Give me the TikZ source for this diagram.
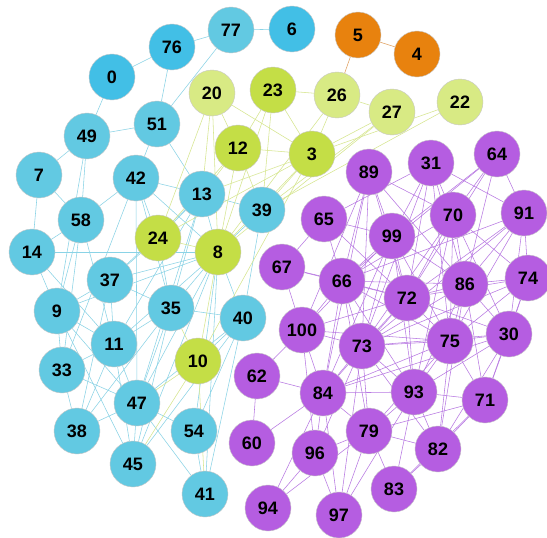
\documentclass[tikz,border=0pt]{standalone}
\usepackage{fontspec}
\setmainfont{Liberation Sans}
\usetikzlibrary{backgrounds}
\definecolor{cyn}{HTML}{62C9E2}
\definecolor{cyd}{HTML}{42BFE6}
\definecolor{lim}{HTML}{C4DE46}
\definecolor{liml}{HTML}{D8EA84}
\definecolor{org}{HTML}{E8820E}
\definecolor{pur}{HTML}{B55DE1}
\definecolor{ecy}{HTML}{8AD3E6}
\definecolor{egr}{HTML}{D6E68E}
\definecolor{eor}{HTML}{E0A060}
\definecolor{epu}{HTML}{B878E2}
\begin{document}
\begin{tikzpicture}[x=1pt,y=-1pt,
  vtx/.style={circle, minimum size=46pt, inner sep=0pt, draw=black!22, line width=0.4pt,
    font=\bfseries\fontsize{18}{18}\selectfont, text=black},
  bedge/.style={draw=ecy, line width=0.55pt},
  gedge/.style={draw=egr, line width=0.55pt},
  oedge/.style={draw=eor, line width=0.55pt},
  pedge/.style={draw=epu, line width=0.55pt}]
\useasboundingbox (0,0) rectangle (547,538);
% blue nodes
\foreach \n/\x/\y in {77/231/30, 49/87/136, 51/157/124, 7/39/175, 42/136/178, 58/81/220,
  13/202/194, 39/262/210, 14/32/252, 37/110/280, 35/171/308, 40/243/318, 9/57/311,
  11/114/344, 33/62/370, 47/137/403, 54/194/431, 38/77/431, 45/133/464, 41/205/494}
  \node[vtx, fill=cyn] (n\n) at (\x,\y) {\n};
\foreach \n/\x/\y in {0/112/77, 76/172/47, 6/292/29}
  \node[vtx, fill=cyd] (n\n) at (\x,\y) {\n};
% green nodes
\foreach \n/\x/\y in {23/273/90, 12/238/148, 3/312/154, 24/158/238, 8/218/252, 10/198/361}
  \node[vtx, fill=lim] (n\n) at (\x,\y) {\n};
\foreach \n/\x/\y in {20/212/93, 26/337/95, 27/392/112, 22/460/102}
  \node[vtx, fill=liml] (n\n) at (\x,\y) {\n};
% orange nodes
\foreach \n/\x/\y in {5/358/35, 4/417/54}
  \node[vtx, fill=org] (n\n) at (\x,\y) {\n};
% purple nodes
\foreach \n/\x/\y in {89/369/172, 31/431/163, 64/497/154, 65/324/219, 99/392/236, 70/453/215,
  91/524/213, 67/282/267, 66/342/281, 72/407/298, 86/465/284, 74/528/278, 100/302/330,
  73/362/346, 75/450/341, 30/509/334, 62/257/376, 84/323/393, 93/414/392, 71/485/400,
  60/252/443, 96/315/453, 79/369/431, 82/438/449, 83/394/489, 94/268/508, 97/339/515}
  \node[vtx, fill=pur] (n\n) at (\x,\y) {\n};
\begin{pgfonlayer}{background}
\fill[white] (0,0) rectangle (547,538);
\foreach \a/\b in {0/76, 0/49, 76/77, 77/6, 51/77, 51/76, 49/51, 49/7, 49/58, 49/9, 7/58, 7/14,
  58/14, 58/42, 58/9, 58/33, 58/11, 42/51, 42/13, 42/8, 42/47, 42/33, 42/35, 51/13, 14/8,
  14/9, 14/11, 13/39, 13/8, 13/35, 13/11, 13/47, 39/8, 39/40, 37/9, 37/11, 37/35, 37/8,
  37/38, 37/13, 9/11, 9/47, 9/45, 9/33, 11/47, 11/35, 11/33, 11/38, 11/45, 33/38, 33/47,
  35/8, 35/40, 35/47, 35/45, 35/38, 40/8, 40/10, 40/47, 40/41, 40/54, 40/45, 47/45, 47/54,
  47/41, 47/38, 54/41, 8/11, 8/47, 8/41, 8/9, 8/45, 8/54, 24/13, 24/42, 24/37, 24/35}
  \draw[bedge] (n\a) -- (n\b);
\foreach \a/\b in {20/12, 20/3, 20/24, 20/8, 20/13, 23/12, 23/3, 23/26, 23/8, 23/39, 26/3,
  26/27, 26/8, 27/3, 27/8, 27/39, 22/3, 22/39, 12/3, 12/8, 12/13, 12/24, 3/8, 3/13, 3/39,
  3/24, 3/10, 24/8, 8/10, 10/47, 10/45, 10/41, 10/35, 12/39}
  \draw[gedge] (n\a) -- (n\b);
\foreach \a/\b in {5/26, 5/4}
  \draw[oedge] (n\a) -- (n\b);
\foreach \a/\b in {89/99, 89/66, 89/73, 89/100, 89/70, 89/86, 89/72, 89/84,
  31/99, 31/70, 31/86, 31/65, 31/75, 31/91, 31/73, 31/72,
  64/70, 64/99, 64/86, 64/72, 64/66, 64/91,
  65/67, 65/66, 65/99, 65/72,
  99/66, 99/72, 99/73, 99/84, 99/100, 99/86, 99/75, 99/93,
  70/86, 70/72, 70/75, 70/30, 70/74, 70/93, 70/73, 70/66,
  91/74, 91/86, 91/30, 91/72, 91/66, 91/73, 91/75,
  67/66, 67/72, 67/100,
  66/72, 66/73, 66/100, 66/84, 66/86, 66/75, 66/93, 66/79,
  72/86, 72/73, 72/75, 72/30, 72/74, 72/84, 72/93, 72/100,
  86/74, 86/30, 86/75, 86/73, 86/93, 86/71, 86/82,
  74/30, 74/75, 74/71, 74/73,
  100/73, 100/84, 100/62, 100/96, 100/75,
  73/84, 73/75, 73/93, 73/79, 73/30, 73/97, 73/96, 73/82,
  75/30, 75/93, 75/71, 75/82, 75/84, 75/79,
  30/71, 30/82, 30/93, 30/84,
  62/84, 62/60,
  84/96, 84/79, 84/60, 84/97, 84/94, 84/93,
  93/79, 93/82, 93/71, 93/83,
  71/82, 71/79, 71/83,
  96/94, 96/97, 96/79,
  79/83, 79/97, 79/82,
  82/83, 94/79, 97/93}
  \draw[pedge] (n\a) -- (n\b);
\end{pgfonlayer}
\end{tikzpicture}
\end{document}
